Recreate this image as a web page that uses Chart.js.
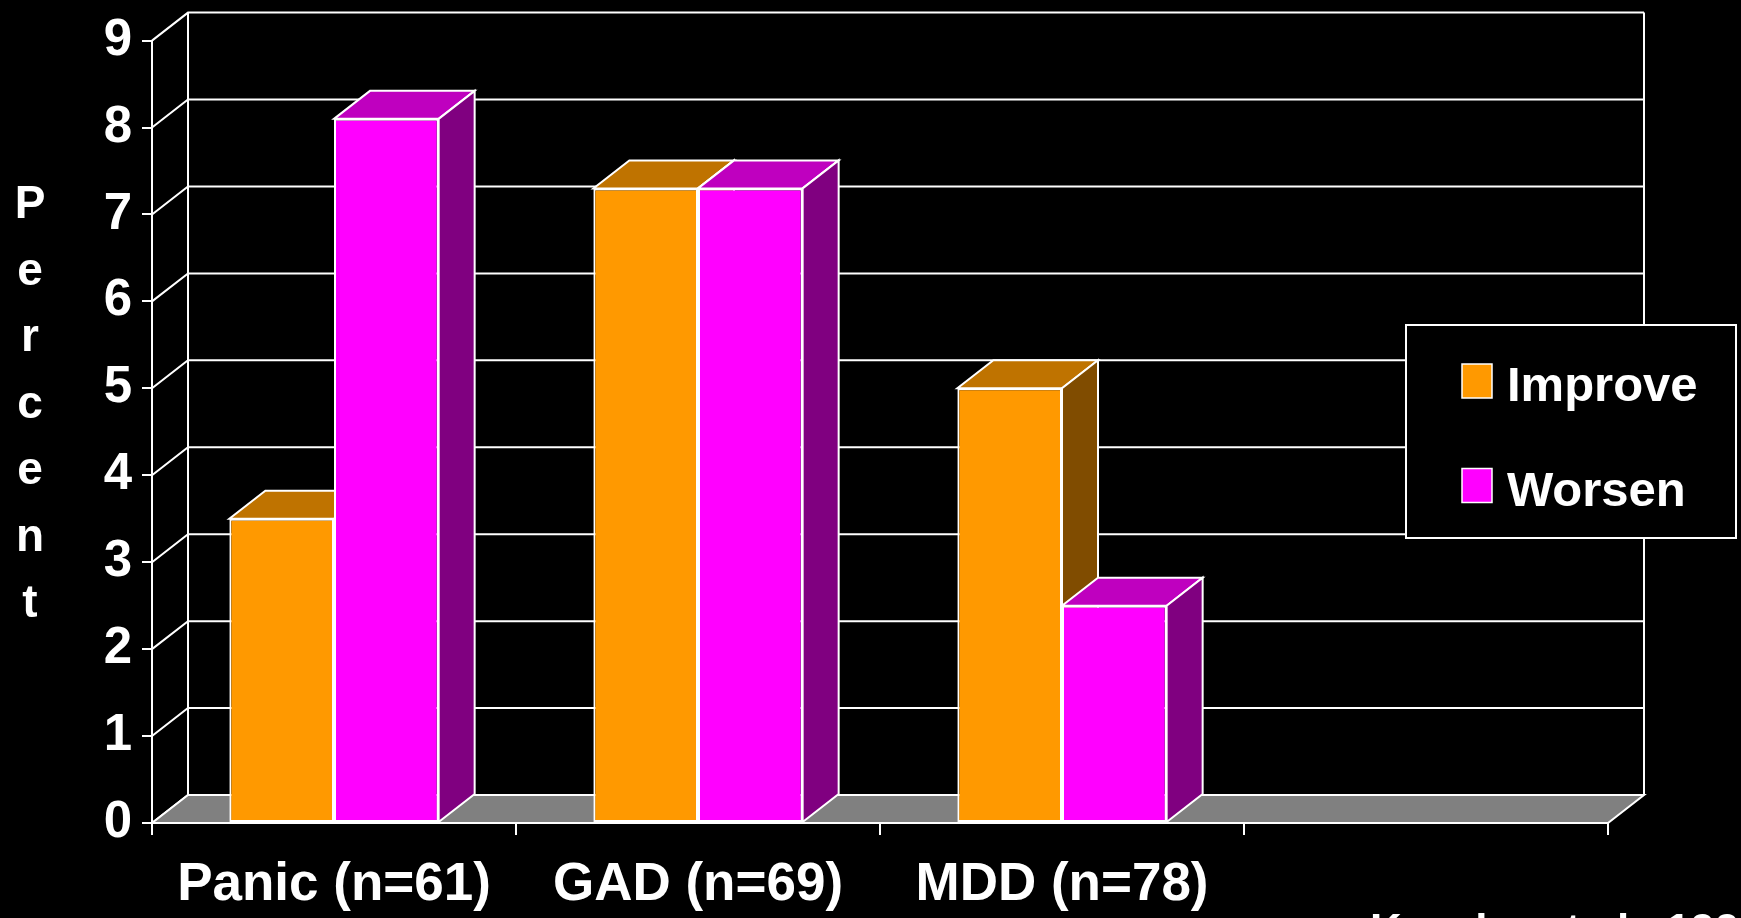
<!DOCTYPE html>
<html>

<head>
  <meta charset="utf-8" />
  <title>Improve / Worsen</title>
  <script src="https://cdn.jsdelivr.net/npm/chart.js"></script>
  <style>
    html, body { margin: 0; padding: 0; background: #000; }
    .chart-box { position: relative; width: 1741px; height: 918px; }
  </style>
</head>

<body>
  <div class="chart-box">
    <canvas id="grafico"></canvas>
  </div>

  <script>
    // datos
    const categories = ['Panic (n=61)', 'GAD (n=69)', 'MDD (n=78)', ''];
    const improveValues = [3.5, 7.3, 5.0, null];
    const worsenValues = [8.1, 7.3, 2.5, null];
    const yMin = 0;
    const yMax = 9;
    const yStep = 1;
    const axisTitle = 'Percent';
    const sourceNote = 'Kessler et al., 1998';

    // profundidad del efecto 3D
    const DX = 36;
    const DY = -28;
    const FONT = "'Liberation Sans', Arial, sans-serif";

    const faceColors = [
      { top: '#bf7300', side: '#804c00' },
      { top: '#bf00bf', side: '#800080' }
    ];

    function poly(ctx, pts, fill) {
      ctx.beginPath();
      ctx.moveTo(pts[0][0], pts[0][1]);
      for (let i = 1; i < pts.length; i++) ctx.lineTo(pts[i][0], pts[i][1]);
      ctx.closePath();
      if (fill) { ctx.fillStyle = fill; ctx.fill(); }
      ctx.stroke();
    }

    // pared del fondo, piso y caras superiores/laterales de las barras
    const box3d = {
      id: 'box3d',
      beforeDatasetsDraw(chart) {
        const { ctx, chartArea: a, scales: { y } } = chart;
        ctx.save();
        ctx.strokeStyle = '#fff';
        ctx.lineWidth = 2;
        ctx.lineJoin = 'miter';

        y.ticks.forEach(t => {
          const py = y.getPixelForValue(t.value);
          ctx.beginPath();
          ctx.moveTo(a.left, py);
          ctx.lineTo(a.left + DX, py + DY);
          ctx.lineTo(a.right + DX, py + DY);
          ctx.stroke();
        });
        ctx.beginPath();
        ctx.moveTo(a.left + DX, a.top + DY);
        ctx.lineTo(a.left + DX, a.bottom + DY);
        ctx.moveTo(a.right + DX, a.top + DY);
        ctx.lineTo(a.right + DX, a.bottom + DY);
        ctx.stroke();

        // piso gris
        poly(ctx, [[a.left, a.bottom], [a.right, a.bottom], [a.right + DX, a.bottom + DY], [a.left + DX, a.bottom + DY]], '#808080');

        // caras 3D de cada barra
        categories.forEach((c, i) => {
          chart.data.datasets.forEach((ds, d) => {
            if (ds.data[i] == null) return;
            const bar = chart.getDatasetMeta(d).data[i];
            const p = bar.getProps(['x', 'y', 'base', 'width'], true);
            const l = p.x - p.width / 2;
            const r = p.x + p.width / 2;
            poly(ctx, [[l, p.y], [r, p.y], [r + DX, p.y + DY], [l + DX, p.y + DY]], faceColors[d].top);
            poly(ctx, [[r, p.y], [r + DX, p.y + DY], [r + DX, p.base + DY], [r, p.base]], faceColors[d].side);
          });
        });
        ctx.restore();
      },
      afterDraw(chart) {
        const { ctx } = chart;
        ctx.save();
        ctx.fillStyle = '#fff';

        // titulo vertical letra por letra
        ctx.font = 'bold 46px ' + FONT;
        ctx.textAlign = 'center';
        ctx.textBaseline = 'alphabetic';
        axisTitle.split('').forEach((ch, i) => {
          ctx.fillText(ch, 30, 218 + i * 66.5);
        });

        // leyenda
        ctx.fillStyle = '#000';
        ctx.strokeStyle = '#fff';
        ctx.lineWidth = 2;
        ctx.fillRect(1406, 325, 330, 213);
        ctx.strokeRect(1406, 325, 330, 213);
        ctx.font = 'bold 49px ' + FONT;
        ctx.textAlign = 'left';
        chart.data.datasets.forEach((ds, d) => {
          const top = 364 + d * 104.5;
          ctx.fillStyle = ds.backgroundColor;
          ctx.lineWidth = 1.5;
          ctx.fillRect(1462, top, 30, 34);
          ctx.strokeRect(1462, top, 30, 34);
          ctx.fillStyle = '#fff';
          ctx.fillText(ds.label, 1507, top + 37);
        });

        // referencia (cortada por el borde)
        ctx.font = 'bold 44px ' + FONT;
        ctx.fillText(sourceNote, 1370, 945);
        ctx.restore();
      }
    };

    const ctx = document.getElementById('grafico').getContext('2d');
    const grafico = new Chart(ctx, {
      type: 'bar',
      data: {
        labels: categories,
        datasets: [{
          label: 'Improve',
          data: improveValues,
          backgroundColor: '#ff9900',
          borderColor: '#ffffff',
          borderWidth: 2,
          borderSkipped: false
        }, {
          label: 'Worsen',
          data: worsenValues,
          backgroundColor: '#ff00ff',
          borderColor: '#ffffff',
          borderWidth: 2,
          borderSkipped: false
        }]
      },
      options: {
        responsive: true,
        maintainAspectRatio: false,
        animation: false,
        devicePixelRatio: 1,
        layout: { padding: { top: 38, right: 133, left: 0, bottom: 0 } },
        datasets: {
          bar: { categoryPercentage: 0.575, barPercentage: 1 }
        },
        plugins: {
          legend: { display: false },
          tooltip: { enabled: false }
        },
        scales: {
          x: {
            afterFit: s => { s.height = 95; },
            grid: { drawOnChartArea: false, tickLength: 12, color: '#fff', lineWidth: 2 },
            border: { display: true, color: '#fff', width: 2 },
            ticks: {
              color: '#fff',
              padding: 19,
              maxRotation: 0,
              autoSkip: false,
              font: { family: FONT, size: 53, weight: 'bold' }
            }
          },
          y: {
            min: yMin,
            max: yMax,
            afterFit: s => { s.width = 152; },
            grid: { drawOnChartArea: false, tickLength: 10, color: '#fff', lineWidth: 2 },
            border: { display: true, color: '#fff', width: 2 },
            ticks: {
              stepSize: yStep,
              color: '#fff',
              padding: 10,
              font: { family: FONT, size: 51, weight: 'bold' }
            }
          }
        }
      },
      plugins: [box3d]
    });
  </script>
</body>

</html>
